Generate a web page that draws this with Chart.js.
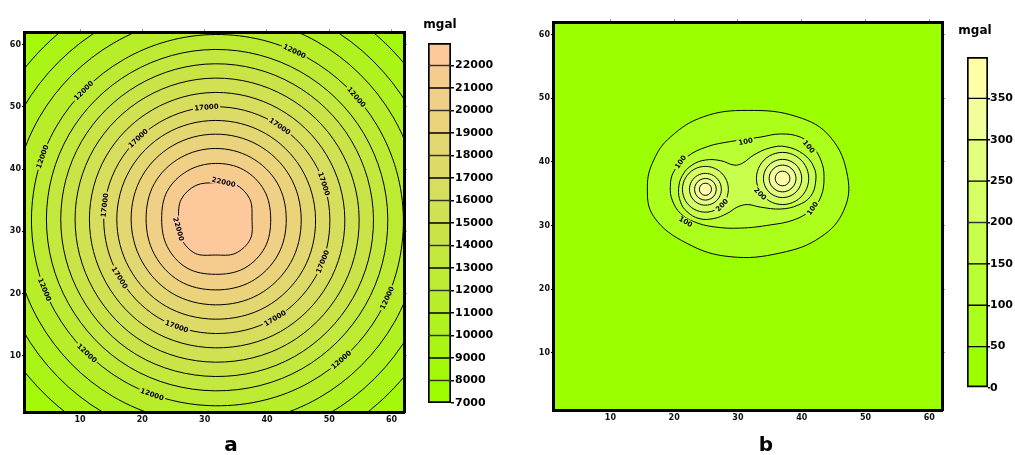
<!DOCTYPE html>
<html><head><meta charset="utf-8">
<script src="https://cdn.jsdelivr.net/npm/chart.js@4.4.1/dist/chart.umd.min.js"></script>
<style>
html,body{margin:0;padding:0;background:#fff;width:1015px;height:455px;overflow:hidden;}
canvas{position:absolute;}
.t{position:absolute;font-family:'DejaVu Sans',sans-serif;font-weight:bold;color:#000;text-align:center;white-space:nowrap;}
</style></head><body>
<canvas id="pa" width="420" height="440" style="left:0;top:0"></canvas>
<canvas id="ca" width="100" height="390" style="left:420px;top:30px"></canvas>
<canvas id="pb" width="425" height="440" style="left:530px;top:0"></canvas>
<canvas id="cb" width="58" height="370" style="left:957px;top:40px"></canvas>
<div class="t" style="left:415px;top:17px;width:50px;font-size:12px;line-height:14px">mgal</div>
<div class="t" style="left:950px;top:23px;width:50px;font-size:12px;line-height:14px">mgal</div>
<div class="t" style="left:211px;top:432px;width:40px;font-size:20px;line-height:24px">a</div>
<div class="t" style="left:746px;top:432px;width:40px;font-size:20px;line-height:24px">b</div>
<script>
// ---------------- data ----------------
const axisMin = 1, axisMax = 62;
const xTicks = [10, 20, 30, 40, 50, 60];
const yTicks = [10, 20, 30, 40, 50, 60];
const anglesDeg = [0, 30, 60, 90, 120, 150, 180, 210, 240, 270, 300, 330];

// panel a : contour levels (inner -> outer) and radii read at anglesDeg around centerA
const centerA = [31.7, 32.0];
const levelsA = [22000, 21000, 20000, 19000, 18000, 17000, 16000, 15000, 14000, 13000, 12000, 11000, 10000, 9000];
const radiiA = [
  [5.9, 6.4, 6.4, 5.8, 6.2, 6.3, 5.9, 6.3, 6.4, 5.8, 6.4, 6.5],
  [8.9, 9.1, 9.1, 8.9, 8.9, 8.9, 8.6, 8.9, 9.1, 8.9, 9.2, 9.2],
  [11.4, 11.5, 11.4, 11.3, 11.3, 11.3, 11.1, 11.3, 11.5, 11.4, 11.6, 11.6],
  [13.8, 13.8, 13.7, 13.6, 13.6, 13.6, 13.5, 13.6, 13.8, 13.8, 14.0, 14.0],
  [16.1, 16.0, 15.9, 15.8, 15.8, 15.8, 15.8, 15.9, 16.1, 16.1, 16.3, 16.3],
  [18.4, 18.3, 18.1, 18.0, 17.9, 17.9, 17.9, 18.0, 18.3, 18.4, 18.6, 18.6],
  [20.8, 20.6, 20.4, 20.3, 20.2, 20.2, 20.2, 20.3, 20.6, 20.7, 20.9, 20.9],
  [23.1, 22.9, 22.7, 22.6, 22.5, 22.5, 22.5, 22.6, 22.9, 23.0, 23.2, 23.2],
  [25.4, 25.2, 25.0, 24.9, 24.8, 24.8, 24.8, 24.9, 25.2, 25.3, 25.5, 25.5],
  [27.7, 27.5, 27.3, 27.2, 27.1, 27.1, 27.1, 27.2, 27.5, 27.6, 27.8, 27.8],
  [30.2, 30.0, 29.8, 29.6, 29.5, 29.5, 29.5, 29.7, 29.9, 30.0, 30.3, 30.4],
  [33.0, 32.9, 32.8, 32.7, 32.6, 32.6, 32.6, 32.7, 32.9, 33.0, 33.2, 33.2],
  [36.0, 35.9, 35.8, 35.7, 35.6, 35.6, 35.6, 35.7, 35.9, 36.0, 36.2, 36.2],
  [39.4, 39.3, 39.2, 39.1, 39.0, 39.0, 39.1, 39.2, 39.3, 39.4, 39.5, 39.5]
];
const bandEdgesA = [7000, 8000, 9000, 10000, 11000, 12000, 13000, 14000, 15000, 16000, 17000, 18000, 19000, 20000, 21000, 22000, 23000];
const colorsA = ['#9dfc00', '#a3f90a', '#aaf515', '#b0f21f', '#b7ee29', '#bdeb33', '#c3e83e', '#cae448',
                 '#d0e152', '#d7dd5c', '#ddda67', '#e3d771', '#ead37b', '#f0d086', '#f5cc8e', '#fdc99c'];
const cbTicksA = [7000, 8000, 9000, 10000, 11000, 12000, 13000, 14000, 15000, 16000, 17000, 18000, 19000, 20000, 21000, 22000];
const labelLevelA = [12000, 12000, 12000, 12000, 12000, 12000, 12000, 12000, 12000,
                     17000, 17000, 17000, 17000, 17000, 17000, 17000, 17000, 17000, 22000, 22000];
const labelAngleA = [135.7, 160.2, 202.5, 226.3, 250.2, 311.8, 335.3, 40.8, 64.7,
                     133.7, 94.5, 172.9, 55.1, 17.9, 338.3, 301, 250.3, 211.6, 77, 195.5];

// panel b : outer contours as closed vertex lists, inner rings around two peaks
const c50x = [15.8, 16.8, 19.4, 24.6, 31.5, 39.3, 44.5, 47.2, 46.6, 43.0, 36.7, 28.8, 22.0, 16.8];
const c50y = [36.1, 40.3, 43.9, 47.1, 48.1, 47.1, 43.9, 37.7, 32.4, 28.2, 25.7, 25.1, 27.2, 31.4];
const c100x = [19.9, 22.0, 25.2, 28.8, 33.5, 36.7, 39.8, 41.7, 43.0, 43.5, 43.0, 41.4, 38.8, 35.1, 30.4, 26.2, 23.1, 21.0, 19.7, 19.4];
const c100y = [38.4, 40.8, 42.4, 43.2, 43.9, 44.4, 43.9, 42.4, 40.3, 37.7, 34.5, 32.4, 30.9, 30.1, 29.6, 29.8, 30.6, 31.9, 34.0, 36.1];
const c150x = [20.7, 21.3, 22.8, 24.9, 27.3, 29.4, 30.7, 32.5, 35.0, 37.5, 40.3, 41.9, 42.2, 41.4, 39.4, 36.7, 33.5, 31.5, 29.9, 28.3, 26.2, 23.9, 22.0, 21.0];
const c150y = [35.8, 37.9, 39.5, 40.3, 40.2, 39.5, 39.8, 41.1, 42.2, 42.4, 41.2, 39.2, 37.0, 34.6, 33.2, 32.6, 32.9, 33.3, 32.9, 31.9, 31.1, 31.1, 32.2, 33.7];
const peakL = [24.9, 35.7], peakR = [37.0, 37.4];
const ringLevelsB = [350, 300, 250, 200];
const ringRadiiL = [0.95, 1.7, 2.5, 3.6];
const ringRadiiR = [1.15, 2.1, 3.0, 4.1];
const bandEdgesB = [0, 50, 100, 150, 200, 250, 300, 350, 400];
const colorsB = ['#9cff00', '#abff1a', '#baff33', '#c8ff4d', '#d6ff66', '#e4ff80', '#f0ff99', '#ffffa8'];
const cbTicksB = [0, 50, 100, 150, 200, 250, 300, 350];
const labelTextB = ['100', '100', '100', '100', '100', '200', '200'];
const labelXB = [31.2, 21.0, 41.1, 41.7, 21.8, 27.5, 33.5];
const labelYB = [43.2, 40.0, 42.4, 32.7, 30.6, 33.2, 35.0];
const labelRotB = [12, 55, -50, 55, -30, 45, -45];

// ---------------- helpers ----------------
const FONT = "'DejaVu Sans', sans-serif";
const rad = d => d * Math.PI / 180;
function bandColor(edges, colors, level) { return colors[edges.indexOf(level)]; }
function polarPoints(c, radii) {
  return anglesDeg.map((a, j) => ({x: c[0] + radii[j] * Math.cos(rad(a)), y: c[1] + radii[j] * Math.sin(rad(a))}));
}
function radiusAt(radii, ang) {
  const a = ((ang % 360) + 360) % 360;
  const i = Math.floor(a / 30), f = (a - i * 30) / 30;
  return radii[i] * (1 - f) + radii[(i + 1) % 12] * f;
}
function loopDs(points, fillColor, tension) {
  return {data: points, borderColor: '#000', borderWidth: 1, backgroundColor: fillColor,
          fill: 'shape', tension: tension, pointRadius: 0, clip: 0};
}
const loopPlugin = {
  id: 'loopLines',
  afterDatasetUpdate(chart, args) {
    const line = args.meta.dataset;
    if (line) { line._loop = true; line._fullLoop = true; delete line._segments; line._path = undefined; line._pointsUpdated = false; }
  }
};
function bgPlugin(color) {
  return {id: 'plotBg', beforeDraw(chart) {
    const a = chart.chartArea, ctx = chart.ctx;
    ctx.save(); ctx.fillStyle = color; ctx.fillRect(a.left, a.top, a.width, a.height); ctx.restore();
  }};
}
function labelPlugin(items) {
  return {id: 'contourLabels', afterDatasetsDraw(chart) {
    const {ctx, chartArea: a} = chart; const sx = chart.scales.x, sy = chart.scales.y;
    ctx.save();
    ctx.beginPath(); ctx.rect(a.left, a.top, a.width, a.height); ctx.clip();
    ctx.font = 'bold 7px ' + FONT; ctx.textAlign = 'center'; ctx.textBaseline = 'middle';
    items.forEach(it => {
      const px = sx.getPixelForValue(it.x), py = sy.getPixelForValue(it.y);
      let ang;
      if (it.rot !== undefined) ang = -rad(it.rot);
      else {
        const cx = sx.getPixelForValue(it.cx), cy = sy.getPixelForValue(it.cy);
        ang = Math.atan2(py - cy, px - cx) + Math.PI / 2;
        while (ang > Math.PI / 2) ang -= Math.PI;
        while (ang < -Math.PI / 2) ang += Math.PI;
      }
      ctx.save(); ctx.translate(px, py); ctx.rotate(ang);
      const w = ctx.measureText(it.text).width;
      ctx.fillStyle = it.bg; ctx.fillRect(-w / 2 - 1.5, -3.5, w + 3, 7);
      ctx.fillStyle = '#000'; ctx.fillText(it.text, 0, 0.5);
      ctx.restore();
    });
    ctx.restore();
  }};
}
function tickSetter(arr) { return s => { s.ticks = arr.map(v => ({value: v})); }; }
const plain = v => String(v);
function plotOptions(pad, leftW, bottomH) {
  const tickFont = {family: FONT, weight: 'bold', size: 8};
  const border = {display: true, width: 3, color: '#000', z: 1};
  return {
    responsive: false, animation: false, events: [],
    layout: {padding: pad},
    elements: {line: {capBezierPoints: false}, point: {radius: 0}},
    plugins: {legend: {display: false}, tooltip: {enabled: false}},
    scales: {
      x: {type: 'linear', position: 'bottom', min: axisMin, max: axisMax, afterBuildTicks: tickSetter(xTicks),
          afterFit: s => { s.height = bottomH; },
          ticks: {font: tickFont, color: '#111', padding: 1, maxRotation: 0, autoSkip: false, callback: plain},
          grid: {drawOnChartArea: false, drawTicks: true, tickLength: 2, color: '#000'}, border: border},
      x2: {type: 'linear', position: 'top', min: axisMin, max: axisMax, afterBuildTicks: tickSetter(xTicks),
          afterFit: s => { s.height = 4; }, ticks: {display: false},
          grid: {drawOnChartArea: false, drawTicks: true, tickLength: 3, color: '#999'}, border: border},
      y: {type: 'linear', position: 'left', min: axisMin, max: axisMax, afterBuildTicks: tickSetter(yTicks),
          afterFit: s => { s.width = leftW; },
          ticks: {font: tickFont, color: '#111', padding: 1, autoSkip: false, callback: plain},
          grid: {drawOnChartArea: false, drawTicks: true, tickLength: 2, color: '#000'}, border: border},
      y2: {type: 'linear', position: 'right', min: axisMin, max: axisMax, afterBuildTicks: tickSetter(yTicks),
          afterFit: s => { s.width = 4; }, ticks: {display: false},
          grid: {drawOnChartArea: false, drawTicks: true, tickLength: 3, color: '#999'}, border: border}
    }
  };
}
function colorbar(id, edges, colors, ticks, pad, axisW, tickLen, tickPad) {
  const n = colors.length;
  const datasets = colors.map((c, i) => ({
    data: [[edges[i], edges[i + 1]]], backgroundColor: c, borderColor: '#000',
    borderWidth: {left: 2, right: 2, top: i === n - 1 ? 2 : 1, bottom: i === 0 ? 2 : 1},
    borderSkipped: false, grouped: false, barPercentage: 1, categoryPercentage: 1
  }));
  new Chart(document.getElementById(id), {
    type: 'bar', data: {labels: [''], datasets},
    options: {
      responsive: false, animation: false, events: [],
      layout: {padding: pad},
      plugins: {legend: {display: false}, tooltip: {enabled: false}},
      scales: {
        x: {display: false},
        y: {position: 'right', min: edges[0], max: edges[edges.length - 1], afterBuildTicks: tickSetter(ticks),
            afterFit: s => { s.width = axisW; },
            ticks: {font: {family: FONT, weight: 'bold', size: 11}, color: '#000', padding: tickPad, autoSkip: false, callback: plain},
            grid: {drawOnChartArea: false, drawTicks: true, tickLength: tickLen, color: '#000', lineWidth: 1.5},
            border: {display: false}}
      }
    }
  });
}

// ---------------- panel a ----------------
const dsA = levelsA.map((lv, k) => loopDs(polarPoints(centerA, radiiA[k]), bandColor(bandEdgesA, colorsA, lv), 0.35));
const labelsA = labelLevelA.map((lv, i) => {
  const k = levelsA.indexOf(lv), ang = labelAngleA[i], r = radiusAt(radiiA[k], ang);
  return {text: String(lv), x: centerA[0] + r * Math.cos(rad(ang)), y: centerA[1] + r * Math.sin(rad(ang)),
          cx: centerA[0], cy: centerA[1], bg: bandColor(bandEdgesA, colorsA, lv)};
});
new Chart(document.getElementById('pa'), {
  type: 'line', data: {datasets: dsA},
  options: plotOptions({top: 28, right: 12, left: 0, bottom: 0}, 24, 28),
  plugins: [loopPlugin, bgPlugin(colorsA[1]), labelPlugin(labelsA)]
});
colorbar('ca', bandEdgesA, colorsA, cbTicksA, {left: 8, top: 13, bottom: 17, right: 0}, 69, 3, 1);

// ---------------- panel b ----------------
const dsB = [];
ringLevelsB.forEach((lv, k) => {
  const col = bandColor(bandEdgesB, colorsB, lv);
  dsB.push(loopDs(polarPoints(peakL, anglesDeg.map(() => ringRadiiL[k])), col, 0.35));
  dsB.push(loopDs(polarPoints(peakR, anglesDeg.map(() => ringRadiiR[k])), col, 0.35));
});
const toPts = (xs, ys) => xs.map((v, i) => ({x: v, y: ys[i]}));
dsB.push(loopDs(toPts(c150x, c150y), bandColor(bandEdgesB, colorsB, 150), 0.4));
dsB.push(loopDs(toPts(c100x, c100y), bandColor(bandEdgesB, colorsB, 100), 0.4));
dsB.push(loopDs(toPts(c50x, c50y), bandColor(bandEdgesB, colorsB, 50), 0.4));
const labelsB = labelTextB.map((t, i) => ({text: t, x: labelXB[i], y: labelYB[i], rot: labelRotB[i],
  bg: bandColor(bandEdgesB, colorsB, Number(t))}));
new Chart(document.getElementById('pb'), {
  type: 'line', data: {datasets: dsB},
  options: plotOptions({top: 18, right: 9, left: 0, bottom: 0}, 23, 30),
  plugins: [loopPlugin, bgPlugin(colorsB[0]), labelPlugin(labelsB)]
});
colorbar('cb', bandEdgesB, colorsB, cbTicksB, {left: 10, top: 17, bottom: 22, right: 0}, 27, 2, 0);
</script>
</body></html>
